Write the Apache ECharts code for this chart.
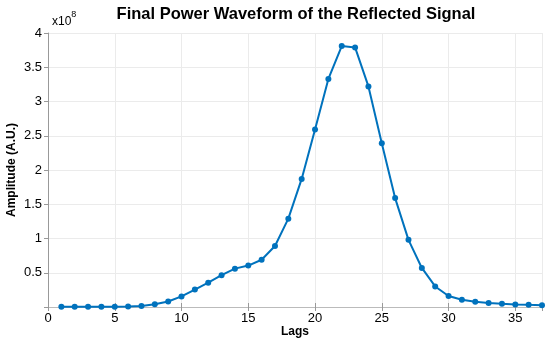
<!DOCTYPE html>
<html>
<head>
<meta charset="utf-8">
<script src="https://cdn.jsdelivr.net/npm/echarts@6/dist/echarts.min.js"></script>
<style>html,body{margin:0;padding:0;background:#fff}#c{width:550px;height:342px}</style>
</head>
<body>
<div id="c"></div>
<script>
var lags = [1,2,3,4,5,6,7,8,9,10,11,12,13,14,15,16,17,18,19,20,21,22,23,24,25,26,27,28,29,30,31,32,33,34,35,36,37];
var amplitude = [0.2e6,0.2e6,0.3e6,0.4e6,0.5e6,0.7e6,1.5e6,4e6,8e6,15.5e6,25.5e6,35.5e6,46.5e6,56e6,60.5e6,69e6,89e6,129e6,187e6,259e6,333e6,381e6,379e6,322e6,239e6,159e6,98e6,57e6,30e6,16e6,10.5e6,7.5e6,6e6,4.8e6,3.8e6,3.2e6,2.7e6];
var xTicks = [0,5,10,15,20,25,30,35];
var yTickStep = 0.5e8;

var chart = echarts.init(document.getElementById('c'), null, {renderer:'canvas'});
var font = 'Liberation Sans, Arial, Helvetica, sans-serif';
var pts = lags.map(function(l,i){return [l, amplitude[i]];});
chart.setOption({
  animation:false,
  backgroundColor:'#fff',
  title:{text:'Final Power Waveform of the Reflected Signal',left:291,textAlign:'center',top:1,
    textStyle:{fontFamily:font,fontWeight:'bold',fontSize:16.5,color:'#000'}},
  grid:{left:48,right:8,top:33,bottom:35,containLabel:false,outerBoundsMode:'none'},
  xAxis:[{type:'value',min:0,max:37,interval:5,
    name:'Lags',nameLocation:'middle',nameGap:19,nameMoveOverlap:false,
    nameTextStyle:{fontFamily:font,fontWeight:'bold',fontSize:12,color:'#000'},
    axisLine:{show:true,lineStyle:{color:'#bbbbbb',width:1}},
    axisTick:{show:true,inside:true,length:4,lineStyle:{color:'#999'}},
    axisLabel:{fontFamily:font,fontSize:13,color:'#000',margin:5,
      formatter:function(v){return xTicks.indexOf(v)>=0?String(v):'';}},
    splitLine:{show:true,lineStyle:{color:'#ebebeb',width:1}}},
   {type:'value',min:0,max:37,interval:5,position:'top',
    axisLine:{show:false},axisTick:{show:true,inside:true,length:4,lineStyle:{color:'#999'}},
    axisLabel:{show:false},splitLine:{show:false}}],
  yAxis:[{type:'value',min:0,max:4e8,interval:yTickStep,
    name:'Amplitude (A.U.)',nameLocation:'middle',nameGap:30,nameMoveOverlap:false,
    nameTextStyle:{fontFamily:font,fontWeight:'bold',fontSize:12,color:'#000'},
    axisLine:{show:false},
    axisTick:{show:true,inside:false,length:4,lineStyle:{color:'#aaa'}},
    axisLabel:{fontFamily:font,fontSize:13,color:'#000',margin:6,showMinLabel:false,
      formatter:function(v){return String(Math.round(v/1e7)/10);}},
    splitLine:{show:true,lineStyle:{color:'#ebebeb',width:1}}},
   {type:'value',min:0,max:4e8,interval:yTickStep,position:'right',
    axisLine:{show:true,lineStyle:{color:'#999',width:1}},
    axisTick:{show:true,inside:true,length:4,lineStyle:{color:'#999'}},
    axisLabel:{show:false},splitLine:{show:false}}],
  graphic:[{type:'text',left:52,top:10,
    style:{text:'{a|x10}{b|8}',rich:{
      a:{fontFamily:font,fontSize:12,fill:'#000',padding:[6,0,0,0]},
      b:{fontFamily:font,fontSize:9,fill:'#000',verticalAlign:'top'}}}}],
  series:[{type:'line',data:pts,xAxisIndex:0,yAxisIndex:0,
    symbol:'circle',symbolSize:6,showSymbol:true,
    lineStyle:{color:'#0072BD',width:2},itemStyle:{color:'#0072BD'}}]
});
</script>
</body>
</html>
